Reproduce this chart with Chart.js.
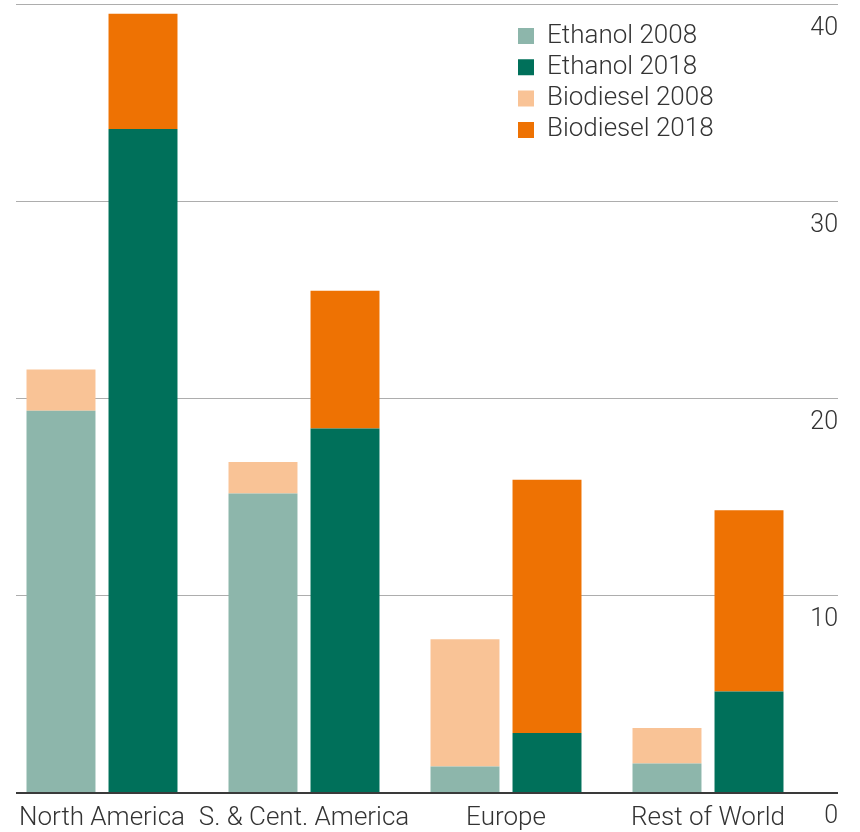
<!DOCTYPE html>
<html>
<head>
<meta charset="utf-8">
<script src="https://cdn.jsdelivr.net/npm/chart.js@4/dist/chart.umd.min.js"></script>
<style>
  html, body { margin: 0; padding: 0; background: #fff; }
  #wrap { width: 860px; height: 832px; position: relative; }
</style>
</head>
<body>
<div id="wrap"><canvas id="c"></canvas></div>
<script>
const categories = ['North America', 'S. & Cent. America', 'Europe', 'Rest of World'];
const ethanol2008 = [19.4, 15.2, 1.35, 1.5];
const ethanol2018 = [33.7, 18.5, 3.05, 5.15];
const biodiesel2008 = [2.1, 1.6, 6.45, 1.8];
const biodiesel2018 = [5.85, 7.0, 12.85, 9.2];
const yTicks = [0, 10, 20, 30, 40];

const FONT = { family: 'Roboto, "Liberation Sans", sans-serif', size: 26, weight: '300' };
const YFONT = { family: 'Roboto, "Liberation Sans", sans-serif', size: 25, weight: '300' };
const TEXT = '#333333';

const gridPlugin = {
  id: 'customGrid',
  beforeDatasetsDraw(chart) {
    const { ctx } = chart;
    const y = chart.scales.y;
    ctx.save();
    ctx.strokeStyle = '#adadad';
    ctx.lineWidth = 1;
    yTicks.forEach(v => {
      if (v === 0) return;
      const py = Math.round(y.getPixelForValue(v)) - 0.5;
      ctx.beginPath();
      ctx.moveTo(16, py);
      ctx.lineTo(838, py);
      ctx.stroke();
    });
    ctx.restore();
  },
  afterDatasetsDraw(chart) {
    const { ctx } = chart;
    const y = chart.scales.y;
    const py = y.getPixelForValue(0);
    ctx.save();
    ctx.strokeStyle = '#3a3a3a';
    ctx.lineWidth = 2;
    ctx.beginPath();
    ctx.moveTo(16, py);
    ctx.lineTo(838, py);
    ctx.stroke();
    ctx.restore();
  }
};

const legendPos = {
  id: 'legendPos',
  beforeDraw(chart) {
    const lg = chart.legend;
    if (!lg) return;
    const pad = lg.options.labels.padding;
    lg.left = 518 - pad;
    lg.top = 23 - pad;
    lg.width = 320;
    lg.height = 200;
    lg.right = lg.left + lg.width;
    lg.bottom = lg.top + lg.height;
  }
};

new Chart(document.getElementById('c'), {
  type: 'bar',
  data: {
    labels: categories,
    datasets: [
      { label: 'Ethanol 2008', data: ethanol2008, stack: '2008', backgroundColor: '#8db6ab' },
      { label: 'Ethanol 2018', data: ethanol2018, stack: '2018', backgroundColor: '#00705a' },
      { label: 'Biodiesel 2008', data: biodiesel2008, stack: '2008', backgroundColor: '#f9c396' },
      { label: 'Biodiesel 2018', data: biodiesel2018, stack: '2018', backgroundColor: '#ee7203' }
    ]
  },
  options: {
    responsive: true,
    maintainAspectRatio: false,
    animation: false,
    datasets: { bar: { categoryPercentage: 0.812, barPercentage: 0.841, borderWidth: 0 } },
    layout: { padding: { top: 5, left: 1, right: 22, bottom: -11.2 } },
    plugins: {
      tooltip: { enabled: false },
      legend: {
        display: true,
        position: 'chartArea',
        align: 'start',
        labels: {
          boxWidth: 16,
          boxHeight: 16,
          padding: 5.3,
          color: TEXT,
          font: FONT
        }
      }
    },
    scales: {
      x: {
        stacked: true,
        grid: { display: false, drawTicks: false },
        border: { display: false },
        ticks: { color: TEXT, font: FONT, padding: 9.5, maxRotation: 0, autoSkip: false }
      },
      y: {
        stacked: true,
        position: 'right',
        min: 0,
        max: 40,
        grid: { display: false, drawTicks: false },
        border: { display: false },
        ticks: {
          stepSize: 10,
          color: TEXT,
          font: YFONT,
          padding: 1,
          crossAlign: 'far',
          labelOffset: 24
        },
        afterBuildTicks(scale) { scale.ticks = yTicks.map(v => ({ value: v })); },
        afterFit(scale) {
          scale.width = 29;
          scale.paddingTop = 0;
          scale.paddingBottom = 0;
        }
      }
    }
  },
  plugins: [gridPlugin, legendPos]
});
</script>
</body>
</html>
